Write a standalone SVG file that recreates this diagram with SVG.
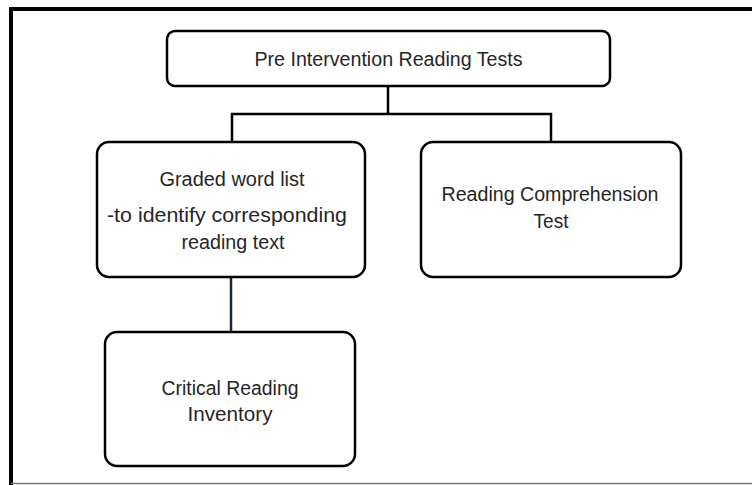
<svg xmlns="http://www.w3.org/2000/svg" width="752" height="485" viewBox="0 0 752 485">
  <style>
    .box { fill: #ffffff; stroke: #000000; stroke-width: 2.5; }
    .lbl { font-family: "Liberation Sans", Arial, sans-serif; font-size: 19.5px; fill: #262626; text-anchor: middle; }
    .conn { stroke: #000000; stroke-width: 2.5; fill: none; }
    .conn2 { stroke: #1a2436; stroke-width: 2.5; fill: none; }
  </style>
  <rect x="0" y="0" width="752" height="485" fill="#ffffff"/>
  <g id="frame">
    <path d="M11,485 V9 H752" fill="none" stroke="#000000" stroke-width="4"/>
    <line x1="11" y1="483.5" x2="752" y2="483.5" stroke="#777777" stroke-width="1.5"/>
  </g>
  <g id="connectors">
    <path class="conn" d="M388,86 V114 M232,142 V114 H551 V142"/>
    <path class="conn2" d="M231,277 V332"/>
  </g>
  <g id="node-top">
    <rect class="box" x="167" y="31" width="443" height="55" rx="8"/>
    <text class="lbl" x="388.5" y="66" textLength="268" lengthAdjust="spacingAndGlyphs">Pre Intervention Reading Tests</text>
  </g>
  <g id="node-graded">
    <rect class="box" x="97" y="142" width="268" height="135" rx="12"/>
    <text class="lbl" x="232" y="186" textLength="145" lengthAdjust="spacingAndGlyphs">Graded word list</text>
    <text class="lbl" x="227" y="222" textLength="240" lengthAdjust="spacingAndGlyphs">-to identify corresponding</text>
    <text class="lbl" x="233" y="249" textLength="103" lengthAdjust="spacingAndGlyphs">reading text</text>
  </g>
  <g id="node-comprehension">
    <rect class="box" x="421" y="142" width="260" height="135" rx="12"/>
    <text class="lbl" x="550" y="201" textLength="217" lengthAdjust="spacingAndGlyphs">Reading Comprehension</text>
    <text class="lbl" x="551" y="228" textLength="35" lengthAdjust="spacingAndGlyphs">Test</text>
  </g>
  <g id="node-critical">
    <rect class="box" x="105" y="332" width="250" height="134" rx="12"/>
    <text class="lbl" x="230" y="395" textLength="137" lengthAdjust="spacingAndGlyphs">Critical Reading</text>
    <text class="lbl" x="230" y="421" textLength="85" lengthAdjust="spacingAndGlyphs">Inventory</text>
  </g>
</svg>
